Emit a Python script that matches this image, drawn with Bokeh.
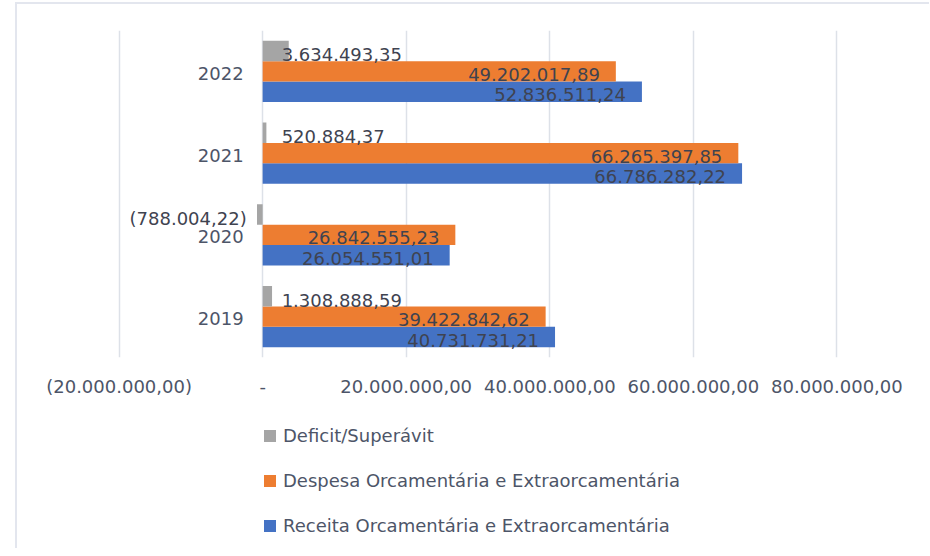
from bokeh.plotting import figure
from bokeh.layouts import column
from bokeh.models import (ColumnDataSource, FactorRange, Range1d, FixedTicker,
                          CustomJSTickFormatter, Legend, LegendItem)
from bokeh.transform import dodge
from bokeh.core.properties import value
from bokeh.embed import file_html
from bokeh.resources import INLINE

years = ["2019", "2020", "2021", "2022"]
receita = [40731731.21, 26054551.01, 66786282.22, 52836511.24]
despesa = [39422842.62, 26842555.23, 66265397.85, 49202017.89]
deficit = [1308888.59, -788004.22, 520884.37, 3634493.35]
x_ticks = [-20000000, 0, 20000000, 40000000, 60000000, 80000000]

names = ["Receita Orcamentária e Extraorcamentária",
         "Despesa Orcamentária e Extraorcamentária",
         "Deficit/Superávit"]
colors = ["#4472C4", "#ED7D31", "#A5A5A5"]

FONT = "DejaVu Sans"
AXIS_TXT = "#4d5568"
LBL_TXT = "#3f4350"


def br(v):
    s = f"{abs(v):,.2f}".replace(",", "X").replace(".", ",").replace("X", ".")
    return f"({s})" if v < 0 else s


src = ColumnDataSource(dict(
    year=years,
    receita=receita, despesa=despesa, deficit=deficit,
    zero=[0.0] * len(years),
    rec_lbl=[br(v) for v in receita],
    des_lbl=[br(v) for v in despesa],
    def_lbl=[br(v) for v in deficit],
    def_align=["left" if v >= 0 else "right" for v in deficit],
    def_off=[19 if v >= 0 else -16 for v in deficit],
))

h = 0.25
W = 912


def add_bars(fig, bar_h):
    rr = fig.hbar(y=dodge("year", -h, range=fig.y_range), left=0, right="receita", height=bar_h,
                  source=src, fill_color=colors[0], line_color=None)
    rd = fig.hbar(y=dodge("year", 0, range=fig.y_range), left=0, right="despesa", height=bar_h,
                  source=src, fill_color=colors[1], line_color=None)
    rf = fig.hbar(y=dodge("year", h, range=fig.y_range), left=0, right="deficit", height=bar_h,
                  source=src, fill_color=colors[2], line_color=None)
    return rr, rd, rf


pad = 500000
p = figure(width=W, height=406, output_backend="svg", toolbar_location=None,
           y_range=FactorRange(factors=years, range_padding=0),
           x_range=Range1d(x_ticks[0] - pad, x_ticks[-1] + pad),
           y_axis_location=None,
           min_border_left=98, min_border_right=89,
           min_border_top=26, min_border_bottom=53)
p.outline_line_color = None
p.background_fill_color = "white"
p.border_fill_color = "white"

# grid
p.ygrid.visible = False
p.xgrid.ticker = FixedTicker(ticks=x_ticks)
p.xgrid.grid_line_color = "#dde1e8"
p.xgrid.grid_line_width = 1.5

add_bars(p, h)

# data labels
p.text(x="receita", y=dodge("year", -h, range=p.y_range), text="rec_lbl", source=src,
       text_align="right", text_baseline="middle", x_offset=-16, y_offset=3,
       text_font=value(FONT), text_font_size="18px", text_color=LBL_TXT)
p.text(x="despesa", y=dodge("year", 0, range=p.y_range), text="des_lbl", source=src,
       text_align="right", text_baseline="middle", x_offset=-16, y_offset=3,
       text_font=value(FONT), text_font_size="18px", text_color=LBL_TXT)
p.text(x="zero", y=dodge("year", h, range=p.y_range), text="def_lbl", source=src,
       text_align="def_align", text_baseline="middle", x_offset="def_off", y_offset=4,
       text_font=value(FONT), text_font_size="18px", text_color=LBL_TXT)

# category labels next to the zero line
p.text(x="zero", y="year", text="year", source=src,
       text_align="right", text_baseline="middle", x_offset=-19, y_offset=2,
       text_font=value(FONT), text_font_size="18px", text_color=AXIS_TXT)

# x axis
p.xaxis.ticker = FixedTicker(ticks=x_ticks)
p.xaxis.formatter = CustomJSTickFormatter(code=r"""
if (tick == 0) { return '-'; }
const a = Math.abs(tick);
const parts = a.toFixed(2).split('.');
const ip = parts[0].replace(/\B(?=(\d{3})+(?!\d))/g, '.');
const s = ip + ',' + parts[1];
return tick < 0 ? '(' + s + ')' : s;
""")
p.xaxis.axis_line_color = None
p.xaxis.major_tick_line_color = None
p.xaxis.minor_tick_line_color = None
p.xaxis.major_label_standoff = 12
p.xaxis.major_label_text_font = FONT
p.xaxis.major_label_text_font_size = "18px"
p.xaxis.major_label_text_color = AXIS_TXT

# legend figure: its bars have zero height, only the legend is seen
pl = figure(width=W, height=138, output_backend="svg", toolbar_location=None,
            y_range=FactorRange(factors=years),
            x_range=Range1d(x_ticks[0] - pad, x_ticks[-1] + pad),
            x_axis_location=None, y_axis_location=None,
            min_border_left=0, min_border_right=0, min_border_top=0, min_border_bottom=0)
pl.outline_line_color = None
pl.xgrid.visible = False
pl.ygrid.visible = False
pl.background_fill_color = "white"
pl.border_fill_color = "white"
lr, ld, lf = add_bars(pl, 0)

legend = Legend(items=[LegendItem(label=names[2], renderers=[lf]),
                       LegendItem(label=names[1], renderers=[ld]),
                       LegendItem(label=names[0], renderers=[lr])],
                location=(147, 12), orientation="vertical",
                glyph_width=15, glyph_height=15, label_height=20,
                spacing=24, padding=0, margin=0, label_standoff=6,
                border_line_color=None, background_fill_alpha=0,
                label_text_font=FONT, label_text_font_size="18px",
                label_text_color=AXIS_TXT)
pl.add_layout(legend)

layout = column(p, pl, spacing=0,
                styles={"margin-left": "15px", "margin-top": "2px",
                        "border-left": "2px solid #e3e6ee",
                        "border-top": "2px solid #e3e6ee"})
open("out.html", "w").write(file_html(layout, INLINE))
